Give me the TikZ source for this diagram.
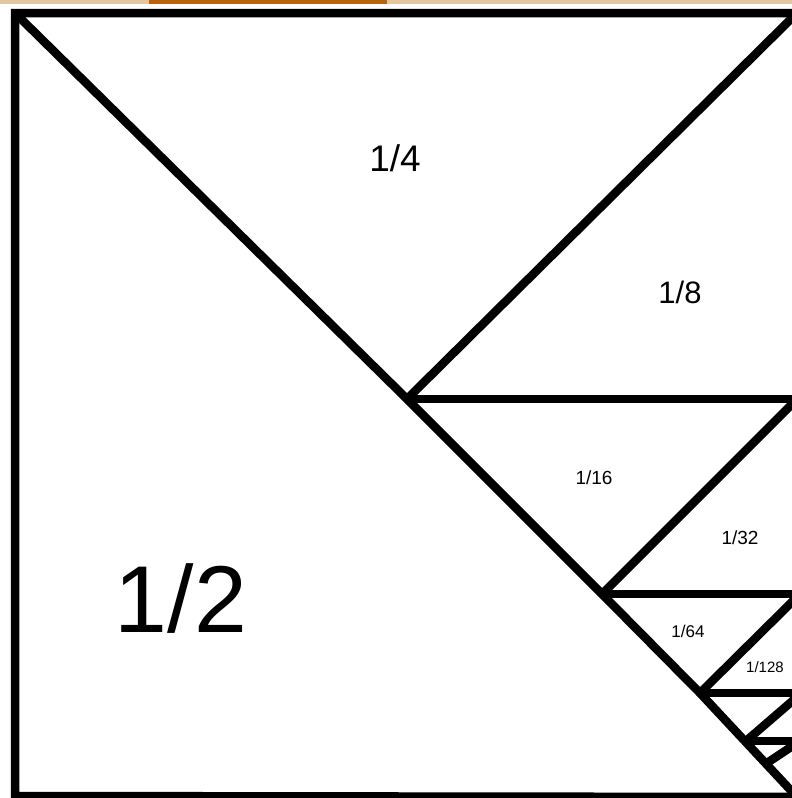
\documentclass[tikz,border=0pt]{standalone}
\usepackage{fontspec}
\setmainfont{Liberation Sans}
\definecolor{tanbar}{HTML}{E3C6A0}
\definecolor{orangebar}{HTML}{B9620C}
\tikzset{
  edge/.style={line width=8.5pt, black, line join=miter},
  lab/.style={inner sep=0pt, text=black},
}
\newcommand{\fs}[1]{\fontsize{#1}{#1}\selectfont}
\begin{document}
\begin{tikzpicture}[x=1pt,y=-1pt]
\useasboundingbox (0,0) rectangle (792,798);
\fill[white] (0,0) rectangle (792,798);
% top bar
\fill[tanbar] (0,0) rectangle (792,4);
\fill[orangebar] (149,0) rectangle (387,4);
% corners and points
\coordinate (TL) at (15,13);
\coordinate (TR) at (797,13);
\coordinate (BL) at (15,796);
\coordinate (BR) at (797,797);
\coordinate (A1) at (407,399);
\coordinate (A2) at (602,594);
\coordinate (A3) at (700,693);
\coordinate (A4) at (746,741);
\coordinate (A5) at (767,763);
\coordinate (R1) at (797,399);
\coordinate (R2) at (797,594);
\coordinate (R3) at (797,693);
\coordinate (R4) at (797,741);
\coordinate (R2b) at (797,597);
\coordinate (R3b) at (797,697);
\coordinate (R4b) at (797,743);
% square
\draw[edge] (TR) -- (TL) -- (BL) -- (BR);
% main diagonal
\draw[edge] (TL) -- (A1) -- (A2) -- (A3) -- (BR);
% subdivisions
\draw[edge] (A1) -- (TR);
\draw[edge] (A1) -- (R1);
\draw[edge] (R1) -- (A2);
\draw[edge] (A2) -- (R2);
\draw[edge] (R2b) -- (A3);
\draw[edge] (A3) -- (R3);
\draw[edge] (R3b) -- (A4);
\draw[edge] (A4) -- (R4);
\draw[edge] (R4b) -- (A5);
% labels
\node[lab, font=\fs{95}] (l2) at (181,599) {1/2};
\node[lab, font=\fs{37}] (l4) at (395,158) {1/4};
\node[lab, font=\fs{31}] (l8) at (680,292) {1/8};
\node[lab, font=\fs{19}] (l16) at (594,478) {1/16};
\node[lab, font=\fs{19}] (l32) at (740,538) {1/32};
\node[lab, font=\fs{17}] (l64) at (688,631) {1/64};
\node[lab, font=\fs{15}] (l128) at (765,667) {1/128};
\end{tikzpicture}
\end{document}
